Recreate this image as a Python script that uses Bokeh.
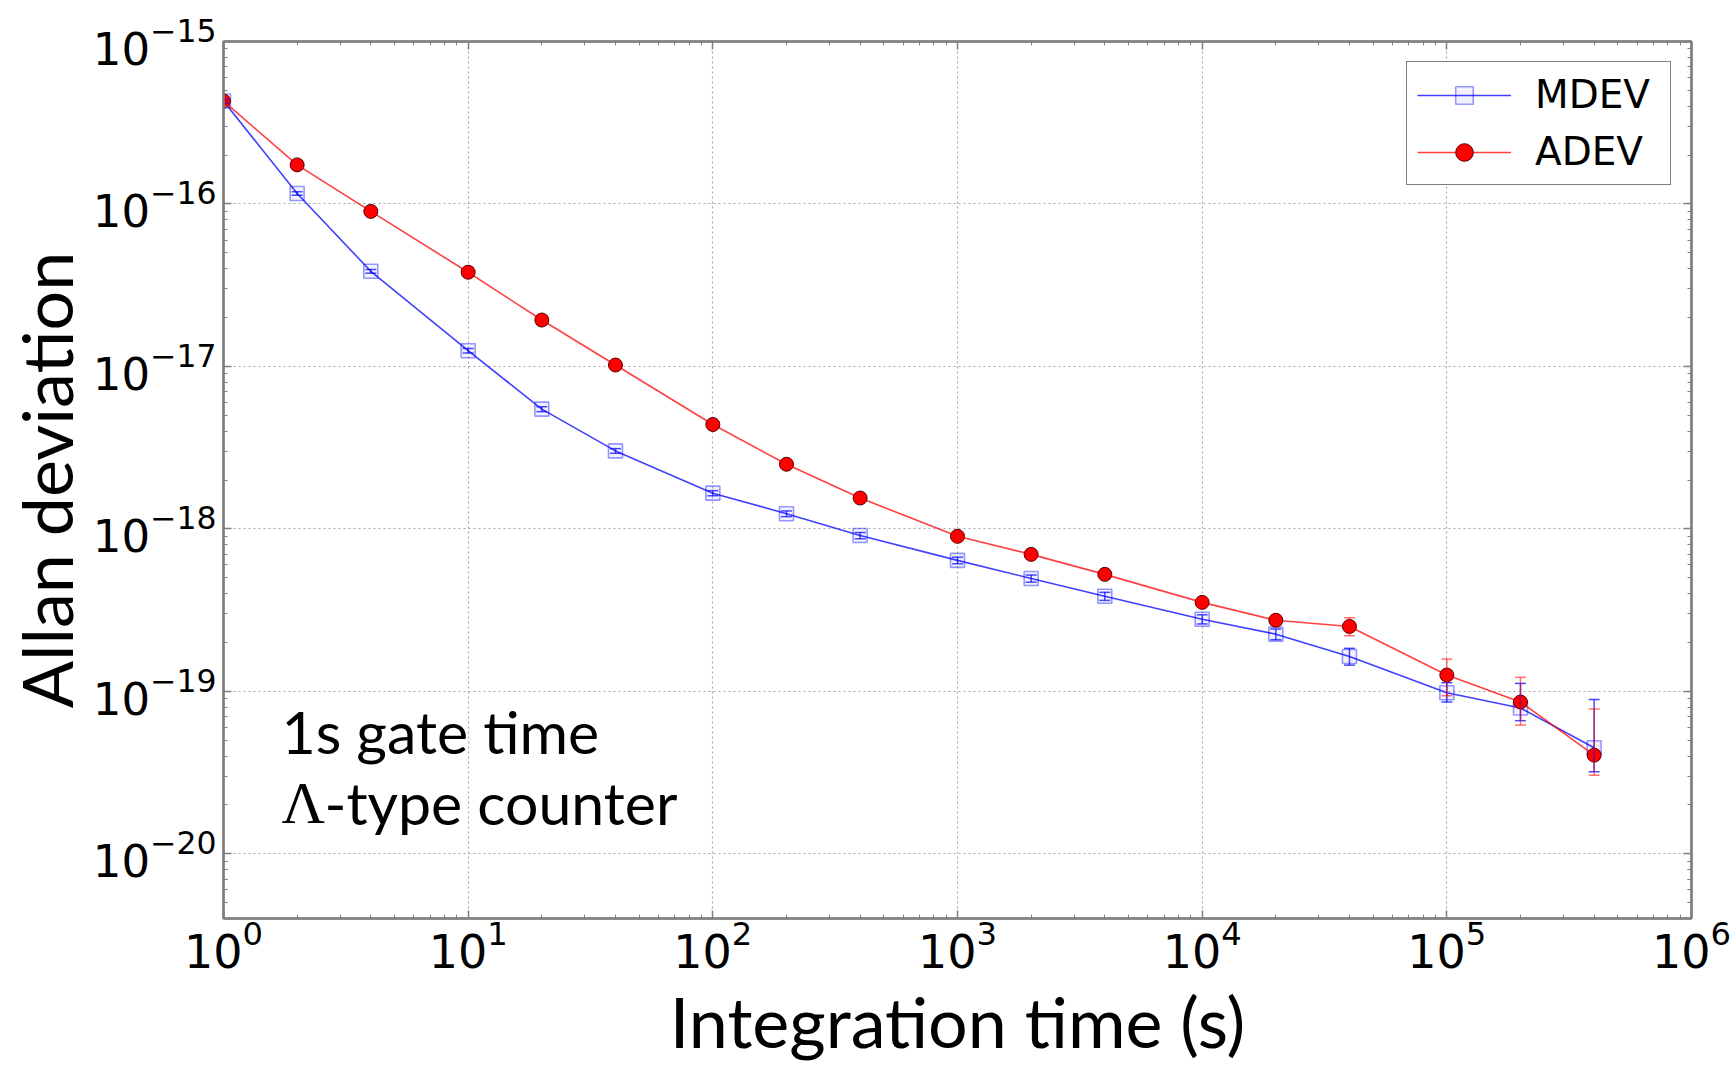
import numpy as np
from bokeh.plotting import figure
from bokeh.models import (ColumnDataSource, Whisker, TeeHead, LogAxis, FixedTicker,
                          Legend, LegendItem, Label, Range1d, CustomJSTickFormatter)
from bokeh.core.properties import value
from bokeh.embed import file_html
from bokeh.resources import INLINE

# ---- data ----
tau = [1, 2, 4, 10, 20, 40, 100, 200, 400, 1000, 2000, 4000, 1e4, 2e4, 4e4, 1e5, 2e5, 4e5]

mdev = [4.3e-16, 1.16e-16, 3.85e-17, 1.25e-17, 5.46e-18, 3.02e-18, 1.66e-18, 1.24e-18, 9.1e-19,
        6.4e-19, 4.95e-19, 3.85e-19, 2.78e-19, 2.25e-19, 1.64e-19, 9.8e-20, 7.9e-20, 4.5e-20]
mdev_hi = [4.4e-16, 1.19e-16, 3.95e-17, 1.29e-17, 5.65e-18, 3.12e-18, 1.72e-18, 1.29e-18, 9.5e-19,
           6.7e-19, 5.2e-19, 4.07e-19, 2.96e-19, 2.42e-19, 1.84e-19, 1.13e-19, 1.12e-19, 8.9e-20]
mdev_lo = [4.2e-16, 1.13e-16, 3.75e-17, 1.21e-17, 5.27e-18, 2.92e-18, 1.60e-18, 1.19e-18, 8.7e-19,
           6.1e-19, 4.7e-19, 3.63e-19, 2.6e-19, 2.08e-19, 1.45e-19, 8.6e-20, 6.6e-20, 3.2e-20]

adev = [4.3e-16, 1.74e-16, 9.0e-17, 3.8e-17, 1.93e-17, 1.02e-17, 4.39e-18, 2.5e-18, 1.55e-18,
        9.0e-19, 6.97e-19, 5.25e-19, 3.53e-19, 2.74e-19, 2.51e-19, 1.26e-19, 8.6e-20, 4.05e-20]
adev_hi = [4.35e-16, 1.77e-16, 9.15e-17, 3.87e-17, 1.97e-17, 1.05e-17, 4.5e-18, 2.57e-18, 1.6e-18,
           9.4e-19, 7.3e-19, 5.5e-19, 3.73e-19, 2.93e-19, 2.84e-19, 1.58e-19, 1.22e-19, 7.8e-20]
adev_lo = [4.25e-16, 1.71e-16, 8.85e-17, 3.73e-17, 1.89e-17, 0.99e-17, 4.28e-18, 2.43e-18, 1.5e-18,
           8.6e-19, 6.65e-19, 5.0e-19, 3.33e-19, 2.55e-19, 2.2e-19, 0.94e-19, 6.2e-20, 3.05e-20]

x_major = [1e0, 1e1, 1e2, 1e3, 1e4, 1e5, 1e6]
y_major = [1e-20, 1e-19, 1e-18, 1e-17, 1e-16, 1e-15]
x_minor = [m * t for t in x_major[:-1] for m in range(2, 10)]
y_minor = [m * t / 10 for t in [1e-20] + y_major for m in range(2, 10)]

series_labels = ["MDEV", "ADEV"]
x_title = "Integration time (s)"
y_title = "Allan deviation"
note_line1 = "1s gate time"
note_lambda = "Λ"
note_line2 = "-type counter"

# ---- figure ----
p = figure(width=1733, height=1065, x_axis_type="log", y_axis_type="log",
           x_range=Range1d(1, 1e6), y_range=Range1d(4e-21, 1e-15),
           output_backend="svg", toolbar_location=None,
           min_border_left=223, min_border_top=41, min_border_right=42, min_border_bottom=145,
           background_fill_color="white", border_fill_color="white")

p.outline_line_color = "#808080"
p.outline_line_width = 2

xt = FixedTicker(ticks=x_major, minor_ticks=x_minor)
yt = FixedTicker(ticks=y_major, minor_ticks=y_minor)

def style_axis(ax):
    ax.axis_line_color = "#808080"
    ax.axis_line_width = 2.5
    ax.major_tick_line_color = "#808080"
    ax.minor_tick_line_color = "#808080"
    ax.major_tick_in = 8
    ax.major_tick_out = 0
    ax.minor_tick_in = 4
    ax.minor_tick_out = 0
    ax.major_tick_line_width = 1.5
    ax.minor_tick_line_width = 1
    ax.major_label_text_font = "DejaVu Sans"
    ax.major_label_text_font_size = "46px"
    ax.major_label_text_color = "black"

p.xaxis.ticker = xt
p.yaxis.ticker = yt
style_axis(p.xaxis[0])
style_axis(p.yaxis[0])
p.yaxis.major_label_text_font_size = "45px"
p.xaxis.major_label_standoff = 1
p.yaxis.major_label_standoff = 7

p.xaxis.axis_label = x_title
p.yaxis.axis_label = y_title
for ax in (p.xaxis[0], p.yaxis[0]):
    ax.axis_label_text_font = "Lato"
    ax.axis_label_text_font_size = "70px"
    ax.axis_label_text_font_style = "normal"
    ax.axis_label_text_color = "black"
p.xaxis.axis_label_standoff = 8
p.yaxis.axis_label_standoff = 2

blank = CustomJSTickFormatter(code="return ''")
top_ax = LogAxis(ticker=xt, formatter=blank)
right_ax = LogAxis(ticker=yt, formatter=blank)
style_axis(top_ax)
style_axis(right_ax)
top_ax.major_label_text_font_size = "2px"
right_ax.major_label_text_font_size = "2px"
top_ax.major_label_standoff = 0
right_ax.major_label_standoff = 0
p.add_layout(top_ax, "above")
p.add_layout(right_ax, "right")

p.xgrid.ticker = xt
p.ygrid.ticker = yt
for g in (p.xgrid[0], p.ygrid[0]):
    g.grid_line_color = "#a8a8a8"
    g.grid_line_dash = "2 3"
    g.grid_line_width = 1.2

# ---- data renderers ----
src_m = ColumnDataSource(dict(x=tau, y=mdev, lo=mdev_lo, hi=mdev_hi))
src_a = ColumnDataSource(dict(x=tau, y=adev, lo=adev_lo, hi=adev_hi))

BLUE = "#0000ff"
RED = "#ff0000"

wm = Whisker(source=src_m, base="x", lower="lo", upper="hi", line_color=BLUE, line_alpha=0.7,
             line_width=1.5, level="glyph",
             upper_head=TeeHead(size=11, line_color=BLUE, line_alpha=0.7, line_width=1.5),
             lower_head=TeeHead(size=11, line_color=BLUE, line_alpha=0.7, line_width=1.5))
p.add_layout(wm)
lm = p.line("x", "y", source=src_m, line_color=BLUE, line_alpha=0.75, line_width=1.6)
sm = p.scatter("x", "y", source=src_m, marker="square", size=14, fill_color=BLUE, fill_alpha=0.05,
               line_color=BLUE, line_alpha=0.4, line_width=1.6)

wa = Whisker(source=src_a, base="x", lower="lo", upper="hi", line_color=RED, line_alpha=0.55,
             line_width=1.5, level="glyph",
             upper_head=TeeHead(size=11, line_color=RED, line_alpha=0.55, line_width=1.5),
             lower_head=TeeHead(size=11, line_color=RED, line_alpha=0.55, line_width=1.5))
p.add_layout(wa)
la = p.line("x", "y", source=src_a, line_color=RED, line_alpha=0.75, line_width=1.6)
sa = p.scatter("x", "y", source=src_a, marker="circle", size=14, fill_color=RED,
               line_color="#5a0000", line_width=1)

legend = Legend(items=[LegendItem(label=series_labels[0], renderers=[lm, sm]),
                       LegendItem(label=series_labels[1], renderers=[la, sa])],
                location="top_right")
legend.margin = 20
legend.padding = 10
legend.spacing = 12
legend.glyph_width = 94
legend.glyph_height = 44
legend.label_standoff = 24
legend.label_height = 44
legend.label_width = 125
legend.label_text_font = "DejaVu Sans"
legend.label_text_font_size = "39px"
legend.label_text_color = "black"
legend.border_line_color = "black"
legend.border_line_width = 1.5
legend.background_fill_color = "white"
legend.background_fill_alpha = 1
p.add_layout(legend)

# ---- text notes ----
p.add_layout(Label(x=58, y=187, x_units="screen", y_units="screen", text=note_line1,
                   text_font="Lato", text_font_size="59px", text_color="black",
                   text_baseline="alphabetic"))
p.add_layout(Label(x=58, y=116, x_units="screen", y_units="screen", text=note_lambda,
                   text_font="Liberation Serif", text_font_size="60px", text_color="black",
                   text_baseline="alphabetic"))
p.add_layout(Label(x=101, y=116, x_units="screen", y_units="screen", text=note_line2,
                   text_font="Lato", text_font_size="59px", text_color="black",
                   text_baseline="alphabetic"))

open("out.html", "w").write(file_html(p, INLINE))
